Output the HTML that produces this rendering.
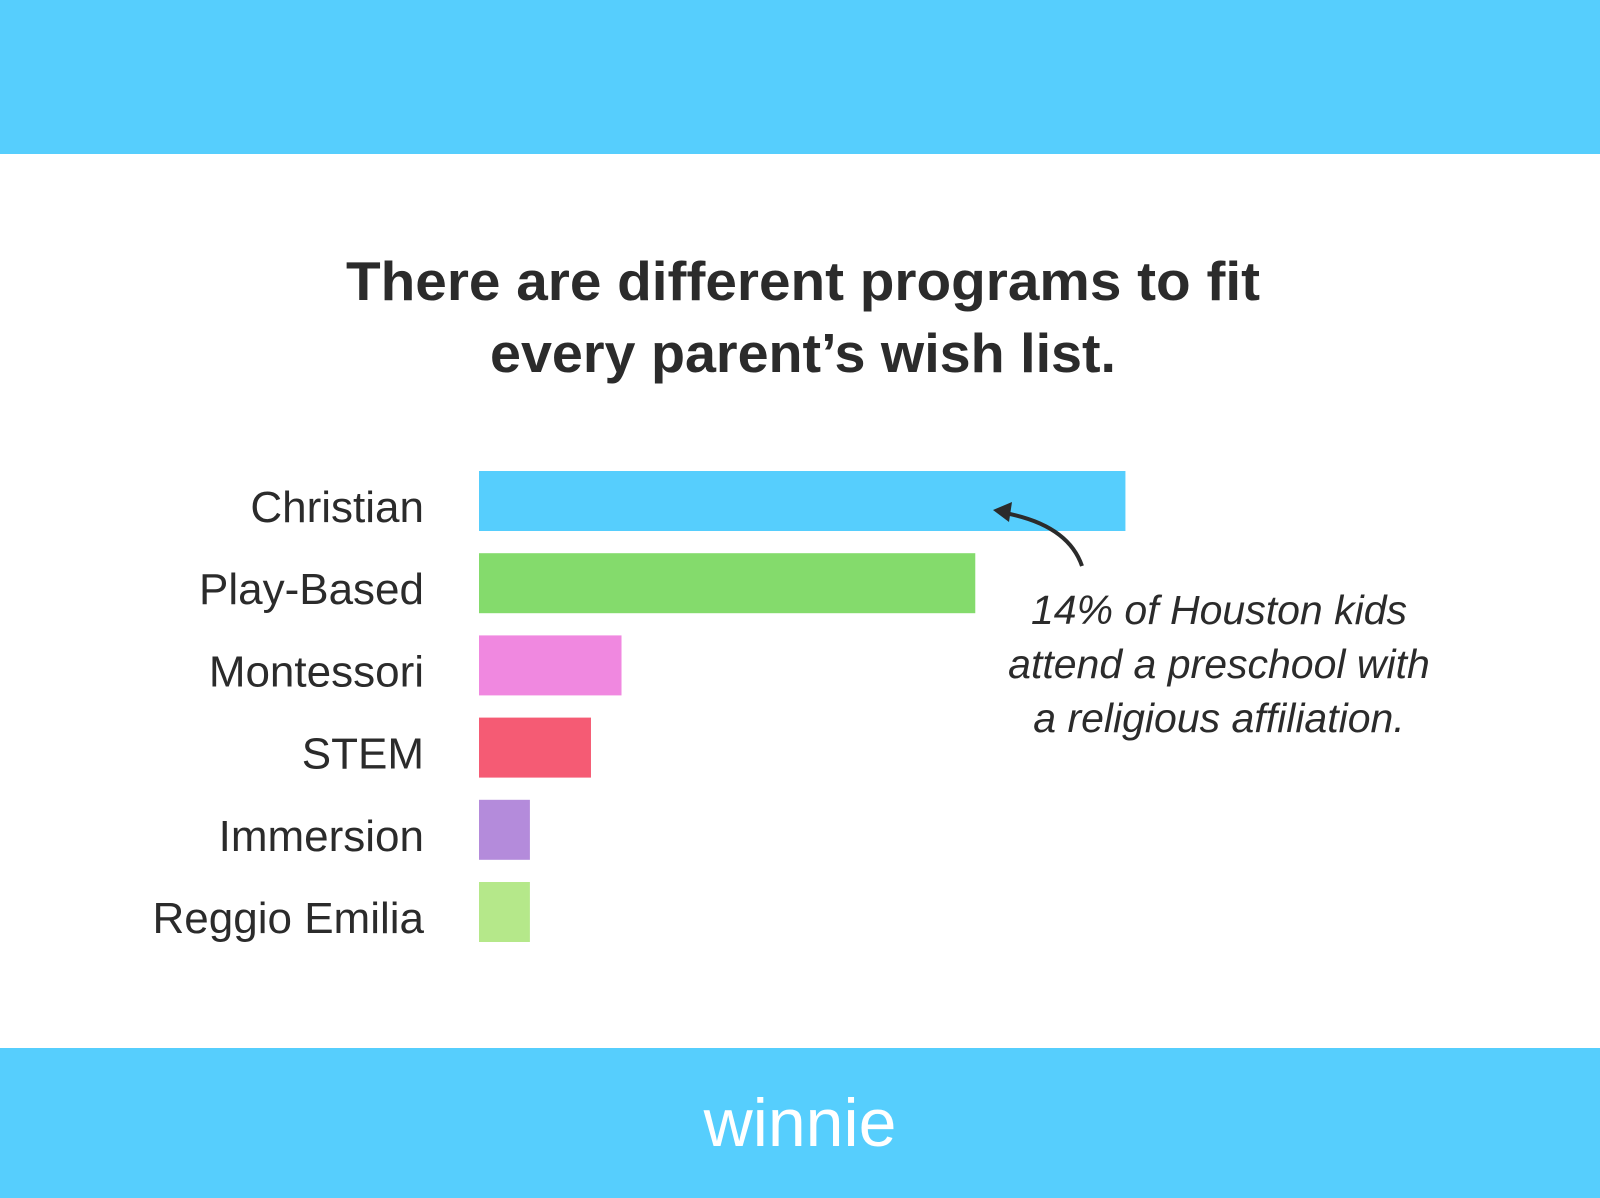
<!DOCTYPE html>
<html><head><meta charset="utf-8"><style>
html,body{margin:0;padding:0;width:1600px;height:1198px;overflow:hidden;background:#fff;font-family:"Liberation Sans",sans-serif}
</style></head><body>
<svg width="1600" height="1198" xmlns="http://www.w3.org/2000/svg">
<rect x="0" y="0" width="1600" height="154" fill="#56CEFD"/>
<rect x="0" y="1048" width="1600" height="150" fill="#56CEFD"/>
<text x="800" y="1146" text-anchor="middle" font-size="68" fill="#fff" font-family="Liberation Sans, sans-serif">winnie</text>
<g font-family="Liberation Sans, sans-serif" font-weight="bold" font-size="55" fill="#2b2b2b" text-anchor="middle">
<text x="803" y="300" textLength="914" lengthAdjust="spacingAndGlyphs">There are different programs to fit</text>
<text x="803" y="372" textLength="626" lengthAdjust="spacingAndGlyphs">every parent’s wish list.</text>
</g>
<g id="bars"></g>
<g font-family="Liberation Sans, sans-serif" font-style="italic" font-size="41" fill="#2b2b2b" text-anchor="middle">
<text x="1219" y="624">14% of Houston kids</text>
<text x="1219" y="678">attend a preschool with</text>
<text x="1219" y="732">a religious affiliation.</text>
</g>
<path d="M1082 566 Q1068 525 1005 513" stroke="#2b2b2b" stroke-width="4" fill="none"/>
<polygon points="993,510 1012,502 1009,522" fill="#2b2b2b"/>
</svg>
<script>
const categories = ["Christian","Play-Based","Montessori","STEM","Immersion","Reggio Emilia"];
const values = [12.7, 9.75, 2.8, 2.2, 1.0, 1.0];
const colors = ["#56CEFD","#84DB6C","#F088E0","#F55B74","#B48BDB","#B5E88A"];
const x0 = 479, pxPerUnit = 50.9, y0 = 471, step = 82.2, barH = 60;
function xScale(v){return v*pxPerUnit;}
function yScale(i){return y0 + i*step;}
const ns = "http://www.w3.org/2000/svg";
const g = document.getElementById('bars');
categories.forEach((c,i)=>{
  const r = document.createElementNS(ns,'rect');
  r.setAttribute('x',x0);
  r.setAttribute('y',yScale(i));
  r.setAttribute('width',xScale(values[i]));
  r.setAttribute('height',barH);
  r.setAttribute('fill',colors[i]);
  
  
  g.appendChild(r);
  const t = document.createElementNS(ns,'text');
  t.setAttribute('x',424);
  t.setAttribute('y',yScale(i)+barH/2+21);
  t.setAttribute('text-anchor','end');
  t.setAttribute('font-size','44');
  t.setAttribute('fill','#2b2b2b');
  t.setAttribute('font-family','Liberation Sans, sans-serif');
  t.textContent = c;
  
  
  g.appendChild(t);
});
</script>
</body></html>
